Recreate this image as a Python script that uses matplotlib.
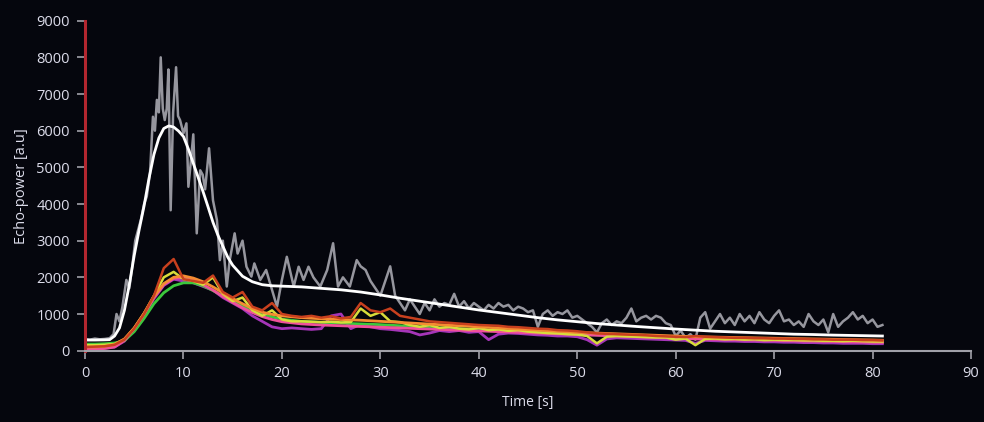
import numpy as np
import matplotlib.pyplot as plt

plt.rcParams['font.family'] = ['Open Sans', 'DejaVu Sans']

# raw echo-power of the gray trace (irregular early samples, then every 0.5 s)
gray_t = [0, 0.5, 1, 1.5, 2, 2.5, 2.9, 3.2, 3.5, 3.8, 4.2, 4.5, 4.8, 5.1, 5.4,
          5.7, 6.0, 6.27, 6.6, 6.9, 7.1, 7.3, 7.5, 7.69, 7.9, 8.1, 8.3, 8.47,
          8.7, 8.95, 9.25, 9.45, 9.65, 10.0, 10.3, 10.5, 10.7, 11.0, 11.35,
          11.7, 11.95, 12.2, 12.6, 13.0, 13.4, 13.7, 14.0, 14.4, 14.7, 15.2,
          15.5, 16.0, 16.4, 16.9, 17.2, 17.8, 18.4, 19.1, 19.5, 20.0, 20.5,
          21.2, 21.7, 22.2, 22.7, 23.2, 23.9, 24.6, 25.2, 25.7, 26.2, 26.9,
          27.6] + list(np.arange(28, 81.01, 0.5))
gray_v = [320, 300, 330, 310, 320, 340, 450, 1000, 800, 1200, 1930, 1700,
          2300, 3000, 3300, 3600, 4000, 4200, 4840, 6380, 6000, 6840, 6500,
          8000, 6600, 6290, 6600, 7670, 3830, 6500, 7730, 6400, 6290, 5930,
          6200, 4470, 5020, 5900, 3200, 4920, 4800, 4400, 5520, 4100, 3560,
          2470, 3000, 1750, 2470, 3200, 2650, 3000, 2290, 2020, 2380, 1930,
          2200, 1570, 1200, 1930, 2560, 1750, 2290, 1930, 2290, 2000, 1750,
          2200, 2930, 1750, 2000, 1750, 2470,
          2300, 2200, 1900, 1700,
          1500, 1900, 2300, 1500, 1300, 1100, 1400, 1200, 1000, 1300,
          1100, 1400, 1200, 1300, 1250, 1550, 1200, 1350, 1150, 1300,
          1200, 1100, 1250, 1150, 1300, 1200, 1250, 1100, 1200, 1150,
          1050, 1100, 650, 1000, 1100, 950, 1050, 1000, 1100, 900,
          950, 850, 750, 650, 500, 750, 850, 700, 800, 750,
          900, 1150, 800, 900, 950, 850, 950, 900, 750, 700,
          400, 550, 350, 450, 300, 900, 1050, 600, 800, 1000,
          750, 900, 700, 1000, 800, 950, 750, 1050, 850, 750,
          950, 1100, 800, 850, 700, 800, 650, 1000, 800, 700,
          850, 500, 1000, 650, 800, 900, 1050, 850, 950, 750,
          850, 650, 700]

# fitted curve for the gray trace
fit_t = [0, 1, 2, 2.5, 3, 3.5, 4, 4.5, 5, 5.5, 6, 6.5, 7, 7.5, 8, 8.5, 9, 9.5,
         10, 10.5, 11, 11.5, 12, 12.5, 13, 13.5, 14, 14.5, 15, 16, 17, 18, 19,
         20, 22, 24, 26, 28, 30, 32, 34, 36, 38, 40, 42, 44, 46, 48, 50, 52,
         54, 56, 58, 60, 62, 64, 66, 68, 70, 72, 74, 76, 78, 80, 81]
fit_v = [290, 290, 295, 300, 400, 620, 1100, 1800, 2600, 3300, 3950, 4700,
         5350, 5800, 6060, 6130, 6100, 5990, 5840, 5500, 5110, 4720, 4330,
         3920, 3500, 3150, 2850, 2550, 2330, 2030, 1880, 1800, 1770, 1760,
         1740, 1700, 1660, 1600, 1520, 1430, 1350, 1270, 1190, 1110, 1040,
         970, 900, 840, 790, 740, 700, 660, 625, 590, 560, 530, 510, 490, 470,
         450, 440, 425, 415, 405, 400]

# colored traces, 1 s sampling
col_t = np.arange(0, 82)
red_v = [100, 110, 120, 160, 300, 600, 1000, 1500, 2250, 2500, 1950, 1900,
         1850, 2050, 1600, 1450, 1600, 1200, 1100, 1300, 1000, 950, 920, 950,
         900, 940, 880, 920, 1300, 1100, 1050, 1150, 950, 900, 850, 800, 780,
         760, 740, 720, 700, 690, 680, 650, 640, 620, 600, 590, 560, 550, 530,
         500, 470, 460, 450, 440, 430, 420, 400, 390, 380, 370, 400, 380, 370,
         360, 350, 350, 340, 340, 330, 330, 320, 320, 310, 310, 300, 300, 300,
         290, 290, 280]
yellow_v = [150, 150, 160, 180, 310, 620, 1020, 1500, 2000, 2150, 1950, 1900,
            1800, 2000, 1550, 1350, 1450, 1100, 950, 1100, 850, 800, 800, 790,
            780, 790, 770, 780, 1150, 950, 1050, 800, 780, 700, 650, 700, 620,
            650, 600, 580, 620, 560, 580, 540, 560, 520, 500, 480, 470, 450,
            440, 400, 200, 380, 400, 390, 380, 370, 360, 360, 300, 330, 150,
            320, 330, 310, 320, 300, 310, 290, 300, 290, 290, 280, 280, 270,
            270, 260, 270, 260, 250, 250]
purple_v = [60, 60, 70, 100, 260, 580, 980, 1420, 1780, 1950, 1900, 1850,
            1750, 1650, 1450, 1300, 1150, 950, 800, 650, 600, 620, 600, 580,
            600, 950, 1000, 600, 720, 650, 600, 580, 550, 520, 430, 480, 550,
            520, 550, 500, 520, 300, 450, 480, 470, 450, 430, 420, 400, 400,
            380, 300, 150, 320, 350, 340, 330, 320, 310, 300, 290, 280, 200,
            280, 270, 260, 260, 250, 250, 240, 240, 230, 230, 220, 220, 210,
            210, 200, 200, 200, 190, 190]

# smooth fits of the colored traces
smooth_t = [0, 1, 2, 3, 4, 5, 6, 7, 8, 9, 10, 11, 12, 13, 14, 15, 16, 17, 18,
            19, 20, 22, 24, 26, 28, 30, 32, 34, 36, 38, 40, 42, 44, 46, 48, 50,
            52, 54, 56, 58, 60, 62, 64, 66, 68, 70, 72, 74, 76, 78, 80, 81]
orange_v = [100, 100, 120, 170, 320, 620, 1020, 1480, 1830, 2000, 2040, 1980,
            1880, 1740, 1580, 1420, 1280, 1150, 1050, 990, 950, 900, 870, 850,
            830, 800, 770, 740, 710, 680, 650, 620, 590, 560, 530, 500, 480,
            460, 440, 420, 400, 380, 370, 360, 350, 340, 330, 320, 310, 300,
            290, 285]
green_v = [180, 180, 190, 210, 270, 520, 880, 1280, 1580, 1770, 1850, 1850,
           1770, 1640, 1500, 1360, 1230, 1110, 1000, 920, 860, 800, 770, 750,
           730, 710, 680, 650, 620, 600, 580, 550, 530, 500, 480, 450, 430,
           410, 390, 370, 350, 340, 330, 310, 300, 290, 280, 270, 260, 250,
           245, 240]
pink_v = [40, 40, 60, 100, 280, 600, 1000, 1450, 1800, 1970, 2000, 1930, 1800,
          1650, 1480, 1320, 1170, 1040, 930, 850, 790, 730, 700, 680, 660, 640,
          620, 600, 580, 560, 540, 520, 500, 480, 460, 440, 420, 400, 380, 360,
          340, 320, 310, 300, 290, 280, 270, 260, 250, 240, 230, 225]

bg = '#05060d'
fig = plt.figure(figsize=(9.84, 4.22), dpi=100, facecolor=bg)
ax = fig.add_axes([0.0864, 0.169, 0.9004, 0.782], facecolor=bg)

ax.plot(gray_t, gray_v, color='#96969e', lw=1.8)
ax.plot(col_t, purple_v, color='#a535b8', lw=2)
ax.plot(smooth_t, green_v, color='#3cc83c', lw=2)
ax.plot(smooth_t, pink_v, color='#f0509a', lw=2)
ax.plot(col_t, yellow_v, color='#d8dc3a', lw=1.8)
ax.plot(smooth_t, orange_v, color='#f58c32', lw=2)
ax.plot(col_t, red_v, color='#c8401e', lw=1.8)
ax.plot(fit_t, fit_v, color='white', lw=2)

ax.set_xlim(0, 90)
ax.set_ylim(0, 9000)
ax.set_xticks(range(0, 91, 10))
ax.set_yticks(range(0, 9001, 1000))

txt = '#dcdcea'
ax.tick_params(colors='#a0a0a8', labelcolor=txt, labelsize=10.5, length=6,
               width=1.2, pad=5)
for s in ['top', 'right']:
    ax.spines[s].set_visible(False)
ax.spines['left'].set_color('#b3262f')
ax.spines['left'].set_linewidth(2.2)
ax.spines['bottom'].set_color('#a0a0a8')
ax.spines['bottom'].set_linewidth(1.5)

ax.set_xlabel('Time [s]', color=txt, fontsize=10, labelpad=10)
ax.set_ylabel('Echo-power [a.u]', color=txt, fontsize=10.5, labelpad=5)

plt.savefig('out.png', facecolor=bg)
